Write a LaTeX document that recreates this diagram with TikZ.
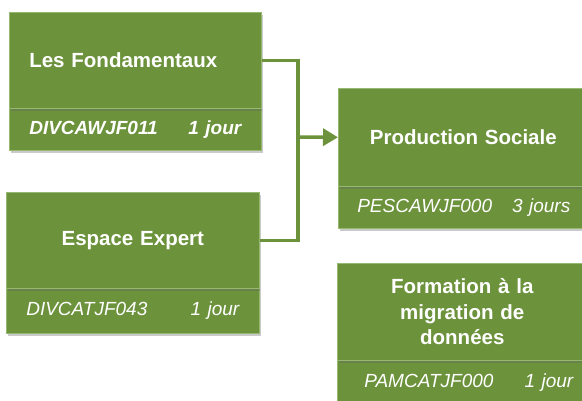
\documentclass[tikz,border=0pt]{standalone}
\usepackage{fontspec}
\setmainfont{Liberation Sans}
\usetikzlibrary{arrows.meta,shadows}
\definecolor{vertmodule}{RGB}{108,146,60}
\definecolor{vertbord}{RGB}{150,184,112}
\begin{document}
\begin{tikzpicture}[x=1pt,y=-1pt,
  ombre/.style={drop shadow={shadow xshift=1.5pt,shadow yshift=-2.5pt,opacity=0.35,fill=black!60}},
  titre/.style={ombre,fill=vertmodule,draw=vertbord,line width=0.6pt,text=white,
    font=\fontsize{20.5}{25.5}\selectfont\bfseries,inner xsep=20pt,inner ysep=0pt,anchor=north west},
  ref/.style={ombre,fill=vertmodule,draw=vertbord,line width=0.6pt,text=white,
    font=\fontsize{19}{22}\selectfont\itshape,inner xsep=20pt,inner ysep=0pt,anchor=north west},
  refgras/.style={ref,font=\fontsize{19}{22}\selectfont\bfseries\itshape},
  lien/.style={draw=vertmodule,line width=3.5pt}]
\useasboundingbox (0,0) rectangle (582,401);
\clip (0,0) rectangle (582,401);

% Les Fondamentaux
\node[refgras,text width=212pt,minimum height=42pt] (fondref) at (9,108) {DIVCAWJF011\hfill 1 jour};
\node[titre,text width=212pt,align=left,minimum height=96pt] (fond) at (9,12) {Les Fondamentaux};

% Espace Expert
\node[ref,text width=213pt,minimum height=45pt] (expertref) at (6,288) {DIVCATJF043\hfill 1 jour};
\node[titre,text width=213pt,align=center,minimum height=96pt] (expert) at (6,192) {Espace Expert};

% Production Sociale
\node[ref,text width=213pt,inner xsep=19pt,minimum height=42pt] (prodref) at (338,186) {PESCAWJF000\hfill 3 jours};
\node[titre,text width=210pt,align=center,minimum height=98pt] (prod) at (338,88) {Production Sociale};

% Migration de donnees
\node[ref,text width=209pt,inner xsep=27pt,minimum height=45pt] (migref) at (337,360) {PAMCATJF000\hfill 1 jour};
\node[titre,text width=210pt,align=center,minimum height=97pt] (mig) at (337,263) {Formation à la\\migration de\\données};

% Liaisons
\coordinate (jonction) at (298,137);
\draw[lien] (fond.east) -| (jonction) |- (expert.east);
\draw[lien,-{Triangle[width=17pt,length=15pt]}] (jonction) -- (prod.west);

\end{tikzpicture}
\end{document}
